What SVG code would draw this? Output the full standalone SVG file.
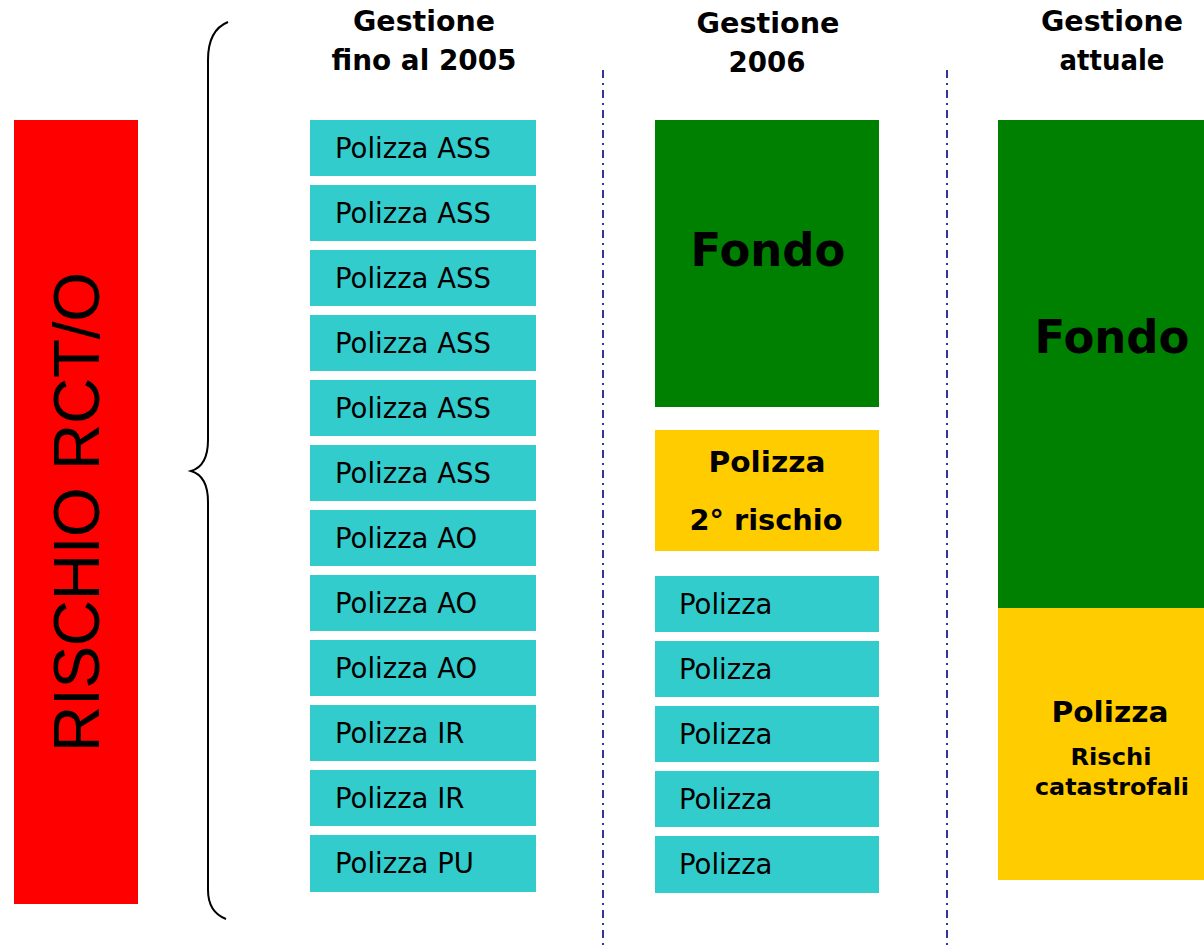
<svg xmlns="http://www.w3.org/2000/svg" width="1204" height="948" viewBox="0 0 1204 948">
<style>
.cy{fill:#33CCCC;}
.gr{fill:#008000;}
.ye{fill:#FFCC00;}
.t{font-family:"DejaVu Sans",Verdana,sans-serif;fill:#000;}
.pol{font-size:27.5px;}
.hd{font-size:29px;font-weight:bold;text-anchor:middle;}
.b{font-weight:bold;text-anchor:middle;}
.sep{stroke:#333399;stroke-width:2;stroke-dasharray:8 5 2 5;fill:none;}
</style>
<rect width="1204" height="948" fill="#fff"/>
<g id="rischio">
<rect x="14" y="120" width="124" height="784" fill="#FF0000"/>
<text transform="translate(99,512) rotate(-90)" text-anchor="middle" font-family="'Liberation Sans',Arial,sans-serif" font-size="64" textLength="480">RISCHIO RCT/O</text>
</g>
<g id="connectors">
<path d="M228,22 Q208,30 208,60 L208,440 Q208,466 191,471 Q208,476 208,502 L208,890 Q208,912 226,919" fill="none" stroke="#000" stroke-width="2"/>
<line class="sep" x1="603" y1="70" x2="603" y2="948"/>
<line class="sep" x1="947" y1="70" x2="947" y2="948"/>
</g>
<g id="headers">
<text class="t hd" x="424" y="31" textLength="142" lengthAdjust="spacingAndGlyphs">Gestione</text>
<text class="t hd" x="424" y="70" textLength="185" lengthAdjust="spacingAndGlyphs">fino al 2005</text>
<text class="t hd" x="768" y="33" textLength="143" lengthAdjust="spacingAndGlyphs">Gestione</text>
<text class="t hd" x="767" y="72" textLength="77" lengthAdjust="spacingAndGlyphs">2006</text>
<text class="t hd" x="1112" y="31" textLength="142" lengthAdjust="spacingAndGlyphs">Gestione</text>
<text class="t hd" x="1112" y="70" textLength="105" lengthAdjust="spacingAndGlyphs">attuale</text>
</g>
<g id="col2005">
<g id="p1"><rect class="cy" x="310" y="120" width="226" height="56"/><text class="t pol" x="335" y="158">Polizza ASS</text></g>
<g id="p2"><rect class="cy" x="310" y="185" width="226" height="56"/><text class="t pol" x="335" y="223">Polizza ASS</text></g>
<g id="p3"><rect class="cy" x="310" y="250" width="226" height="56"/><text class="t pol" x="335" y="288">Polizza ASS</text></g>
<g id="p4"><rect class="cy" x="310" y="315" width="226" height="56"/><text class="t pol" x="335" y="353">Polizza ASS</text></g>
<g id="p5"><rect class="cy" x="310" y="380" width="226" height="56"/><text class="t pol" x="335" y="418">Polizza ASS</text></g>
<g id="p6"><rect class="cy" x="310" y="445" width="226" height="56"/><text class="t pol" x="335" y="483">Polizza ASS</text></g>
<g id="p7"><rect class="cy" x="310" y="510" width="226" height="56"/><text class="t pol" x="335" y="548">Polizza AO</text></g>
<g id="p8"><rect class="cy" x="310" y="575" width="226" height="56"/><text class="t pol" x="335" y="613">Polizza AO</text></g>
<g id="p9"><rect class="cy" x="310" y="640" width="226" height="56"/><text class="t pol" x="335" y="678">Polizza AO</text></g>
<g id="p10"><rect class="cy" x="310" y="705" width="226" height="56"/><text class="t pol" x="335" y="743">Polizza IR</text></g>
<g id="p11"><rect class="cy" x="310" y="770" width="226" height="56"/><text class="t pol" x="335" y="808">Polizza IR</text></g>
<g id="p12"><rect class="cy" x="310" y="835" width="226" height="57"/><text class="t pol" x="335" y="873">Polizza PU</text></g>
</g>
<g id="col2006">
<g id="fondo2006"><rect class="gr" x="655" y="120" width="224" height="287"/><text class="t b" x="768" y="266" font-size="46" textLength="155" lengthAdjust="spacingAndGlyphs">Fondo</text></g>
<g id="secondo"><rect class="ye" x="655" y="430" width="224" height="121"/><text class="t b" x="767" y="472" font-size="29" textLength="117" lengthAdjust="spacingAndGlyphs">Polizza</text><text class="t b" x="766" y="530" font-size="29" textLength="153" lengthAdjust="spacingAndGlyphs">2° rischio</text></g>
<g id="q1"><rect class="cy" x="655" y="576" width="224" height="56"/><text class="t pol" x="679" y="614">Polizza</text></g>
<g id="q2"><rect class="cy" x="655" y="641" width="224" height="56"/><text class="t pol" x="679" y="679">Polizza</text></g>
<g id="q3"><rect class="cy" x="655" y="706" width="224" height="56"/><text class="t pol" x="679" y="744">Polizza</text></g>
<g id="q4"><rect class="cy" x="655" y="771" width="224" height="56"/><text class="t pol" x="679" y="809">Polizza</text></g>
<g id="q5"><rect class="cy" x="655" y="836" width="224" height="57"/><text class="t pol" x="679" y="874">Polizza</text></g>
</g>
<g id="colattuale">
<g id="fondoatt"><rect class="gr" x="998" y="120" width="206" height="488"/><text class="t b" x="1112" y="353" font-size="46" textLength="155" lengthAdjust="spacingAndGlyphs">Fondo</text></g>
<g id="catastrofali"><rect class="ye" x="998" y="608" width="206" height="272"/><text class="t b" x="1110" y="722" font-size="29" textLength="117" lengthAdjust="spacingAndGlyphs">Polizza</text><text class="t b" x="1111" y="765" font-size="23" textLength="81" lengthAdjust="spacingAndGlyphs">Rischi</text><text class="t b" x="1112" y="795" font-size="23" textLength="154" lengthAdjust="spacingAndGlyphs">catastrofali</text></g>
</g>
</svg>
